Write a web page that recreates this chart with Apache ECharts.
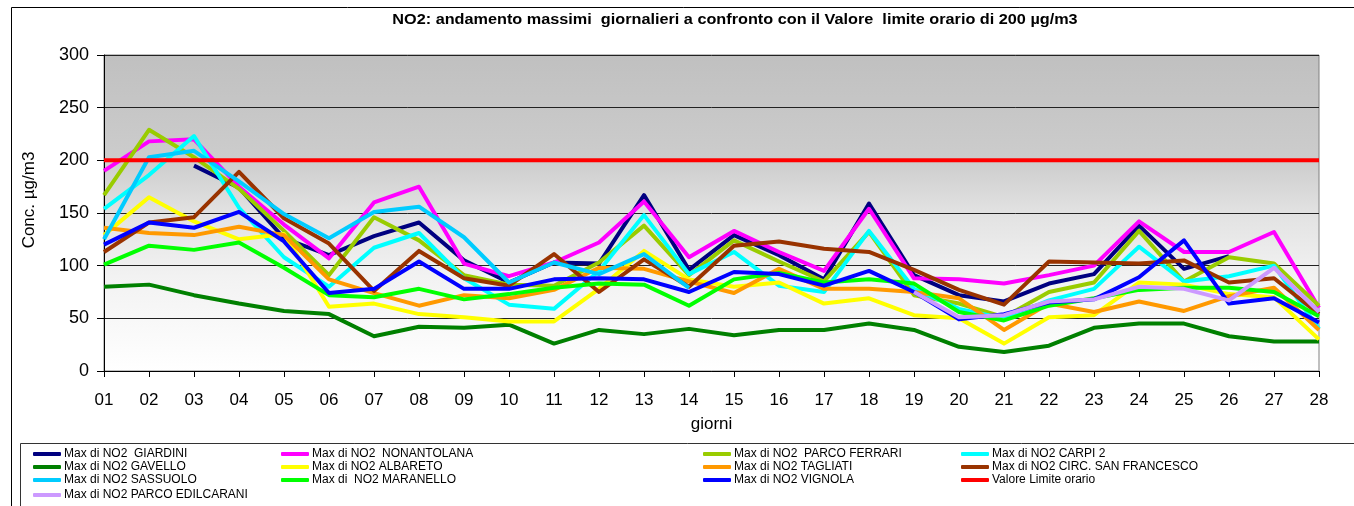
<!DOCTYPE html>
<html>
<head>
<meta charset="utf-8">
<title>NO2 massimi giornalieri</title>
<script src="https://cdn.jsdelivr.net/npm/echarts@6/dist/echarts.min.js"></script>
<style>
  html, body { margin: 0; padding: 0; background: #fff; }
  #no2Chart { width: 1354px; height: 506px; }
</style>
</head>
<body>
<div id="no2Chart"></div>
<script>
// giorni del mese
const days = ["01","02","03","04","05","06","07","08","09","10","11","12","13","14",
              "15","16","17","18","19","20","21","22","23","24","25","26","27","28"];

// massimi giornalieri NO2 (µg/m3) per stazione
const giardini      = [null,null,195,174,126,110,128,141,105,84,103,102,167,96,129,110,87,159,91,72,66,83,92,138,97,109,null,null];
const nonantolana   = [190,218,220,175,139,107,160,175,102,90,103,122,161,108,133,113,95,154,88,87,83,91,100,142,113,113,132,60];
const parcoFerrari  = [167,229,203,173,133,91,146,124,91,82,81,103,138,91,124,104,85,132,72,64,51,75,84,133,85,108,102,62];
const carpi2        = [154,186,223,155,108,80,117,131,88,63,59,95,148,92,113,81,75,133,78,59,50,67,78,118,85,90,100,40];
const gavello       = [80,82,72,64,57,54,33,42,41,44,26,39,35,40,34,39,39,45,39,23,18,24,41,45,45,33,28,28];
const albareto      = [129,165,142,125,130,61,64,54,51,47,47,78,114,87,80,84,64,69,53,50,26,51,53,84,82,73,70,30];
const tagliati      = [136,131,129,137,129,87,74,62,72,69,77,98,97,85,74,97,78,78,75,69,39,64,56,66,57,71,79,39];
const sanFrancesco  = [113,141,146,189,145,121,76,114,88,81,111,75,106,80,119,123,116,113,96,77,63,104,103,102,105,84,88,54];
const sassuolo      = [125,203,209,180,149,126,151,156,127,84,103,92,111,79,null,null,null,null,null,null,null,null,null,null,null,null,null,null];
const maranello     = [101,119,115,122,98,72,70,78,68,73,79,83,82,62,87,93,84,87,83,56,48,62,69,77,79,79,75,52];
const vignola       = [120,141,136,151,123,74,78,104,78,78,87,88,87,75,94,92,81,95,75,49,54,65,68,89,124,64,69,46];
const edilcarani    = [null,null,null,null,null,null,null,null,null,null,null,null,null,null,null,null,null,null,75,51,53,66,68,80,78,67,98,56];
const limite        = [200,200,200,200,200,200,200,200,200,200,200,200,200,200,200,200,200,200,200,200,200,200,200,200,200,200,200,200];

const yTicks = [0, 50, 100, 150, 200, 250, 300];

var chartDom = document.getElementById("no2Chart");
var myChart = echarts.init(chartDom, null, { renderer: "canvas" });

const FONT = "'Liberation Sans', Arial, sans-serif";

// serie nell'ordine della legenda di Excel
const stations = [
  { name: "Max di NO2  GIARDINI",            data: giardini,     color: "#000080" },
  { name: "Max di NO2  NONANTOLANA",         data: nonantolana,  color: "#ff00ff" },
  { name: "Max di NO2  PARCO FERRARI",       data: parcoFerrari, color: "#99cc00" },
  { name: "Max di NO2 CARPI 2",              data: carpi2,       color: "#00ffff" },
  { name: "Max di NO2 GAVELLO",              data: gavello,      color: "#008000" },
  { name: "Max di NO2 ALBARETO",             data: albareto,     color: "#ffff00" },
  { name: "Max di NO2 TAGLIATI",             data: tagliati,     color: "#ff9900" },
  { name: "Max di NO2 CIRC. SAN FRANCESCO",  data: sanFrancesco, color: "#993300" },
  { name: "Max di NO2 SASSUOLO",             data: sassuolo,     color: "#00ccff" },
  { name: "Max di  NO2 MARANELLO",           data: maranello,    color: "#00ff00" },
  { name: "Max di NO2 VIGNOLA",              data: vignola,      color: "#0000ff" },
  { name: "Valore Limite orario",            data: limite,       color: "#ff0000" },
  { name: "Max di NO2 PARCO EDILCARANI",     data: edilcarani,   color: "#cc99ff" }
];

// posizioni legenda (4 colonne)
const legendCols = [33, 281, 703, 961];
const legendRows = [448, 461, 474, 489];

const legends = stations.map(function (s, i) {
  return {
    data: [s.name],
    left: legendCols[i % 4],
    top: legendRows[Math.floor(i / 4)],
    icon: "roundRect",
    itemWidth: 28,
    itemHeight: 4,
    padding: 0,
    selectedMode: false,
    textStyle: { fontFamily: FONT, fontSize: 12, color: "#000", padding: [0, 0, 0, -2] }
  };
});

const series = stations.map(function (s) {
  return {
    name: s.name,
    type: "line",
    data: s.data,
    showSymbol: false,
    symbol: "none",
    connectNulls: false,
    lineStyle: { width: 4, color: s.color, join: "round" },
    itemStyle: { color: s.color },
    emphasis: { disabled: true }
  };
});

let option = {
  animation: false,
  backgroundColor: "#fff",
  textStyle: { fontFamily: FONT },
  graphic: [
    {
      type: "rect",
      shape: { x: 11.5, y: 7.5, width: 1400, height: 600 },
      style: { fill: null, stroke: "#000", lineWidth: 1 },
      silent: true
    },
    {
      type: "rect",
      shape: { x: 20.5, y: 443.5, width: 1400, height: 200 },
      style: { fill: null, stroke: "#333", lineWidth: 1 },
      silent: true
    },
    {
      type: "text",
      x: 735,
      y: 13,
      scaleX: 1.16,
      style: {
        text: "NO2: andamento massimi  giornalieri a confronto con il Valore  limite orario di 200 µg/m3",
        font: "bold 14px " + FONT,
        fill: "#000",
        align: "center"
      },
      silent: true
    }
  ],
  legend: legends,
  grid: {
    left: 104,
    right: 35,
    top: 55,
    bottom: 135,
    show: true,
    borderColor: "#808080",
    borderWidth: 1,
    backgroundColor: new echarts.graphic.LinearGradient(0, 0, 0, 1, [
      { offset: 0, color: "#c0c0c0" },
      { offset: 0.33, color: "#cccccc" },
      { offset: 0.5, color: "#e2e2e2" },
      { offset: 0.7, color: "#f2f2f2" },
      { offset: 1, color: "#ffffff" }
    ])
  },
  xAxis: {
    type: "category",
    data: days,
    boundaryGap: false,
    name: "giorni",
    nameLocation: "middle",
    nameGap: 45,
    nameTextStyle: { fontSize: 17, color: "#000", fontFamily: FONT },
    axisLine: { lineStyle: { color: "#000", width: 1 } },
    axisTick: { show: true, length: 6, lineStyle: { color: "#000" } },
    axisLabel: { fontSize: 17, color: "#000", margin: 21, fontFamily: FONT },
    splitLine: { show: false }
  },
  yAxis: {
    type: "value",
    min: yTicks[0],
    max: yTicks[yTicks.length - 1],
    interval: 50,
    name: "Conc. µg/m3",
    nameLocation: "middle",
    nameGap: 66,
    nameTextStyle: { fontSize: 17, color: "#000", fontFamily: FONT, padding: [0, 0, 0, 26] },
    axisLine: { show: true, lineStyle: { color: "#000", width: 1 } },
    axisTick: { show: true, length: 7, inside: false, lineStyle: { color: "#000" } },
    axisLabel: { fontSize: 18, color: "#000", margin: 15, fontFamily: FONT },
    splitLine: { show: true, lineStyle: { color: "#222", width: 1 } }
  },
  series: series
};

option && myChart.setOption(option);
</script>
</body>
</html>
